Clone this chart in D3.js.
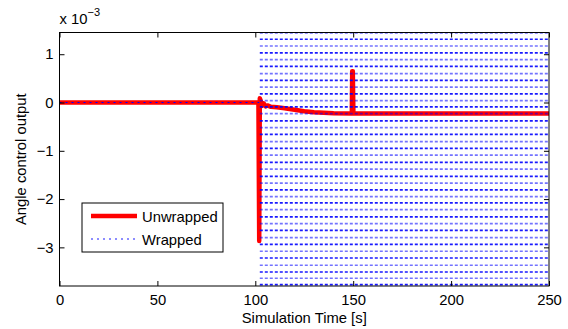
<!DOCTYPE html>
<html>
<head>
<meta charset="utf-8">
<script src="https://cdn.jsdelivr.net/npm/d3@7"></script>
<style>
body { margin: 0; background: #fff; }
text { font-family: "Liberation Sans", Arial, sans-serif; fill: #000; }
</style>
</head>
<body>
<div id="chart"></div>
<script>
// values in units of 1e-3
var xTicks = [0, 50, 100, 150, 200, 250];
var yTicks = [-3, -2, -1, 0, 1];

// unwrapped control output (time, value)
var unwrappedT = [0, 101.6, 102.0, 102.3, 102.8, 103.5, 104.3, 105.2, 106.2, 108, 111, 115, 120, 125, 130, 135, 140, 149.3, 149.5, 149.8, 150.1, 250];
var unwrappedV = [0, 0, -2.87, 0.09, 0.03, -0.07, -0.02, -0.08, -0.06, -0.09, -0.1, -0.12, -0.15, -0.18, -0.2, -0.21, -0.22, -0.23, 0.65, 0.65, -0.23, -0.23];

// wrapped output: flat part before the jump, then rows of levels it sweeps through
var wrappedFlatT = [0, 102];
var wrappedFlatV = [0, 0];
var wrappedStart = 102.3;
var wrappedEnd = 250;
var wrappedLevels = [1.44, 1.31, 1.17, 1.03, 0.89, 0.75, 0.60, 0.46, 0.32, 0.18, 0.04, -0.09,
  -0.23, -0.38, -0.52, -0.66, -0.81, -0.95, -1.09, -1.24, -1.38, -1.53, -1.67, -1.81,
  -1.95, -2.08, -2.22, -2.37, -2.51, -2.65, -2.80, -2.94, -3.08, -3.22, -3.37, -3.51, -3.64, -3.77];

var W = 568, H = 329;
var margin = {left: 59.5, right: 19, top: 32.5, bottom: 43};
var pw = W - margin.left - margin.right;
var ph = H - margin.top - margin.bottom;
var fs = "14.8px";

var svg = d3.select("#chart").append("svg")
  .attr("width", W).attr("height", H);

var x = d3.scaleLinear().domain([0, 250]).range([0, pw]);
var y = d3.scaleLinear().domain([-3.8, 1.45]).range([ph, 0]);

var g = svg.append("g").attr("transform", "translate(" + margin.left + "," + margin.top + ")");

g.append("clipPath").attr("id", "clip")
  .append("rect").attr("width", pw).attr("height", ph);

var plot = g.append("g").attr("clip-path", "url(#clip)");

var line = d3.line().x(function (d) { return x(d[0]); }).y(function (d) { return y(d[1]); });

// unwrapped (red, thick)
var uData = unwrappedT.map(function (t, i) { return [t, unwrappedV[i]]; });
plot.append("path").datum(uData)
  .attr("d", line)
  .attr("fill", "none")
  .attr("stroke", "#ff0000")
  .attr("stroke-width", 4.5)
  .attr("stroke-linejoin", "round");

// wrapped (blue dotted)
var wData = wrappedFlatT.map(function (t, i) { return [t, wrappedFlatV[i]]; });
plot.append("path").datum(wData)
  .attr("d", line)
  .attr("fill", "none")
  .attr("stroke", "#0000ff")
  .attr("stroke-width", 1.2)
  .attr("stroke-dasharray", "2,4");

plot.selectAll("line.wrap").data(wrappedLevels)
  .enter().append("line")
  .attr("class", "wrap")
  .attr("x1", x(wrappedStart))
  .attr("x2", x(wrappedEnd))
  .attr("y1", function (d) { return y(d); })
  .attr("y2", function (d) { return y(d); })
  .attr("stroke", "#0000ff")
  .attr("stroke-opacity", function (d, i) { return i % 2 == 0 ? 0.55 : 0.9; })
  .attr("stroke-width", 1.7)
  .attr("stroke-dasharray", "3,2");

// axes box
g.append("rect").attr("width", pw).attr("height", ph)
  .attr("fill", "none").attr("stroke", "#000").attr("stroke-width", 1);

var xAxis = d3.axisBottom(x).tickValues(xTicks).tickSize(-5).tickPadding(8);
g.append("g").attr("transform", "translate(0," + ph + ")").call(xAxis);
g.append("g").call(d3.axisTop(x).tickValues(xTicks).tickSize(-5).tickFormat(""));

var yAxis = d3.axisLeft(y).tickValues(yTicks).tickSize(-5).tickPadding(6)
  .tickFormat(function (d) { return d < 0 ? "\u2212" + Math.abs(d) : d; });
g.append("g").call(yAxis);
g.append("g").attr("transform", "translate(" + pw + ",0)")
  .call(d3.axisRight(y).tickValues(yTicks).tickSize(-5).tickFormat(""));

g.selectAll(".domain").remove();
g.selectAll(".tick line").attr("stroke", "#000");
g.selectAll(".tick text").style("font-size", fs).attr("fill", "#000");

// exponent
var ex = svg.append("text").attr("x", margin.left).attr("y", 24).style("font-size", fs);
ex.append("tspan").text("x 10");
ex.append("tspan").attr("dy", -8).style("font-size", "11px").text("\u22123");

// axis labels
svg.append("text")
  .attr("x", margin.left + pw / 2).attr("y", 323)
  .attr("text-anchor", "middle").style("font-size", fs)
  .text("Simulation Time [s]");
svg.append("text")
  .attr("transform", "translate(26," + (margin.top + ph / 2) + ") rotate(-90)")
  .attr("text-anchor", "middle").style("font-size", fs)
  .text("Angle control output");

// legend
var lg = svg.append("g").attr("transform", "translate(82,203)");
lg.append("rect").attr("width", 141).attr("height", 49)
  .attr("fill", "#fff").attr("stroke", "#000").attr("stroke-width", 1);
lg.append("line").attr("x1", 9).attr("x2", 55).attr("y1", 13).attr("y2", 13)
  .attr("stroke", "#ff0000").attr("stroke-width", 4.5);
lg.append("line").attr("x1", 9).attr("x2", 55).attr("y1", 36).attr("y2", 36)
  .attr("stroke", "#0000ff").attr("stroke-opacity", 0.6).attr("stroke-width", 1.5)
  .attr("stroke-dasharray", "2,4");
lg.append("text").attr("x", 60).attr("y", 18.5).style("font-size", fs).text("Unwrapped");
lg.append("text").attr("x", 60).attr("y", 41.5).style("font-size", fs).text("Wrapped");
</script>
</body>
</html>
